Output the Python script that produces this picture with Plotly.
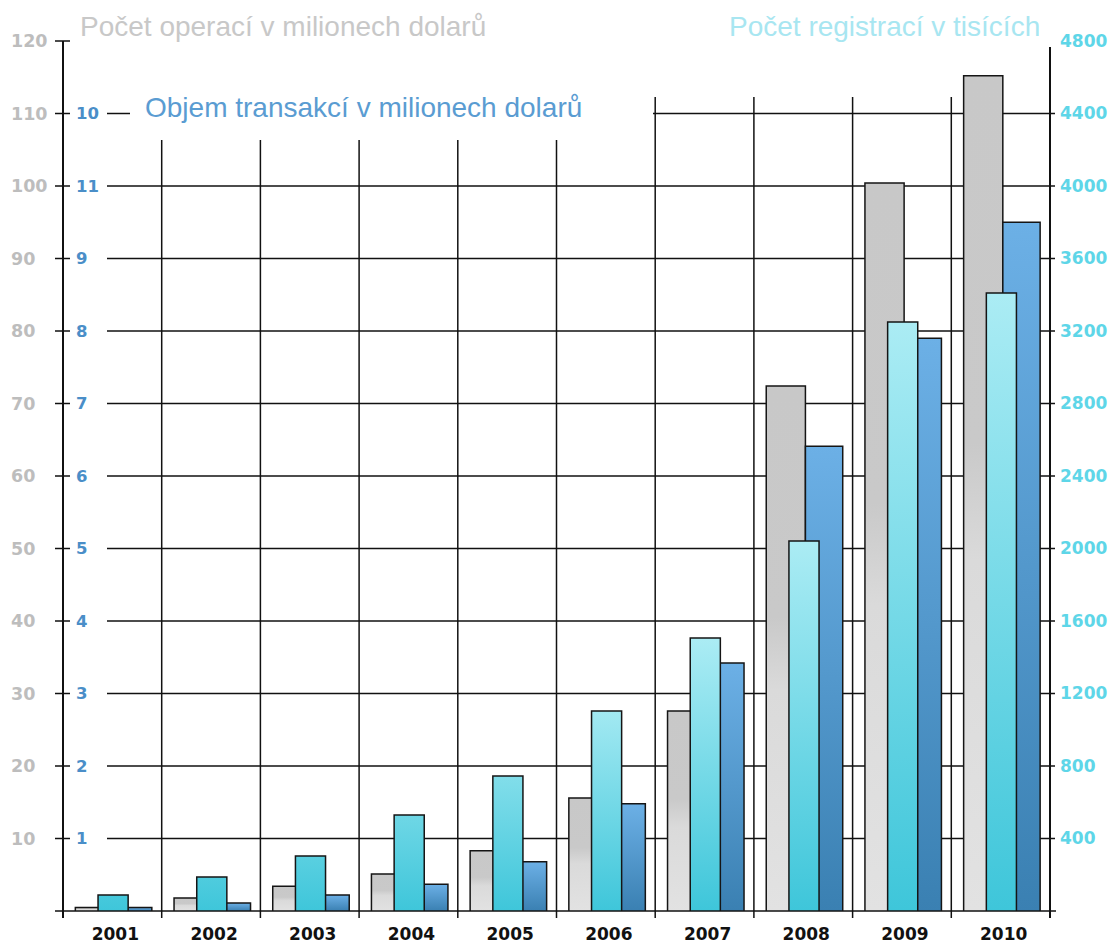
import plotly.graph_objects as go

# ---------------- data ----------------
years = ["2001", "2002", "2003", "2004", "2005", "2006", "2007", "2008", "2009", "2010"]
# Počet operací v milionech dolarů (left axis, grey bars)
operations = [0.5, 1.8, 3.4, 5.1, 8.3, 15.6, 27.6, 72.4, 100.4, 115.2]
# Počet registrací v tisících (right axis, cyan bars)
registrations = [88, 188, 303, 530, 745, 1103, 1506, 2041, 3250, 3410]
# Objem transakcí v milionech dolarů (inner axis, blue bars)
volume = [0.05, 0.11, 0.22, 0.37, 0.68, 1.48, 3.42, 6.41, 7.9, 9.5]

left_tickvals = [10, 20, 30, 40, 50, 60, 70, 80, 90, 100, 110, 120]
inner_tickvals = [1, 2, 3, 4, 5, 6, 7, 8, 9, 10, 11]
inner_ticktext = ["1", "2", "3", "4", "5", "6", "7", "8", "9", "11", "10"]
right_tickvals = [400, 800, 1200, 1600, 2000, 2400, 2800, 3200, 3600, 4000, 4400, 4800]

# ---------------- layout constants ----------------
W, H = 1117, 945
PL, PR, PT, PB = 63, 1050, 41, 911   # plot area in px
CAT = (PR - PL) / 10.0

GRAY_SPAN = (0.125, 0.522)
BLUE_SPAN = (0.522, 0.900)
CYAN_SPAN = (0.355, 0.660)

GRAY_SCALE = [[0, "#e2e2e2"], [0.42, "#dadada"], [0.56, "#c9c9c9"], [1, "#c8c8c8"]]
CYAN_SCALE = [[0, "#3ec6da"], [1, "#abecf4"]]
BLUE_SCALE = [[0, "#3a80b2"], [1, "#6cb0e6"]]
CYAN_MIN_SPAN = 1200   # gradient length for short cyan bars (axis units)
EDGE = "#151515"
LINE = "#111111"


def bar(i, value, span, yaxis, scale, stop=None):
    left = i - 0.5 + span[0]
    right = i - 0.5 + span[1]
    grad = dict(type="vertical", colorscale=scale)
    if stop is not None:
        grad.update(start=0, stop=stop)
    return go.Scatter(
        x=[left, left, right, right, left],
        y=[0, value, value, 0, 0],
        xaxis="x", yaxis=yaxis, mode="lines",
        line=dict(color=EDGE, width=1.5),
        fill="toself",
        fillgradient=grad,
        hoverinfo="skip", showlegend=False,
    )


fig = go.Figure()
for i, v in enumerate(operations):
    fig.add_trace(bar(i, v, GRAY_SPAN, "y", GRAY_SCALE))
for i, v in enumerate(volume):
    fig.add_trace(bar(i, v, BLUE_SPAN, "y2", BLUE_SCALE))
for i, v in enumerate(registrations):
    fig.add_trace(bar(i, v, CYAN_SPAN, "y3", CYAN_SCALE, stop=max(v, CYAN_MIN_SPAN)))


def px(x):
    return x / W


def py(y):
    return (PB - y) / (PB - PT)


def seg(x0, y0, x1, y1, w=1.5):
    return dict(type="line", xref="paper", yref="paper",
                x0=px(x0), y0=py(y0), x1=px(x1), y1=py(y1),
                line=dict(color=LINE, width=w), layer="below")


shapes = []
unit = (PB - PT) / 120.0
for lv in range(0, 130, 10):
    yy = PB - lv * unit
    if lv == 0:
        shapes.append(seg(55, yy, 1056, yy))
        continue
    shapes.append(seg(55, yy, 70, yy))
    if lv <= 100:
        shapes.append(seg(107, yy, 1055, yy))
    elif lv == 110:
        shapes.append(seg(107, yy, 130, yy))
        shapes.append(seg(653, yy, 1055, yy))

# axes lines
shapes.append(seg(PL, PT, PL, 918, 2))
shapes.append(seg(PR, 47, PR, 918, 2))
# category dividers
for k in range(1, 10):
    xx = PL + k * CAT
    top = 140 if k <= 5 else 97
    shapes.append(seg(xx, top, xx, 918, 1.5))

tick_font_base = dict(family="DejaVu Sans", weight="bold")

fig.update_layout(
    width=W, height=H,
    margin=dict(l=0, r=0, t=PT, b=H - PB, pad=0, autoexpand=False),
    plot_bgcolor="white", paper_bgcolor="white",
    showlegend=False,
    shapes=shapes,
    xaxis=dict(domain=[PL / W, PR / W], range=[-0.5, 9.5], automargin=False,
               tickvals=list(range(10)), ticktext=years,
               showgrid=False, zeroline=False, showline=False,
               ticks="outside", ticklen=8, tickcolor="rgba(0,0,0,0)",
               ticklabelshift=3,
               tickfont=dict(size=17, color="#111111", **tick_font_base)),
    yaxis=dict(range=[0, 120], tickvals=left_tickvals, automargin=False,
               side="right", anchor="free", position=10 / W,
               showgrid=False, zeroline=False, showline=False, ticks="",
               tickfont=dict(size=17.5, color="#bdbdbd", **tick_font_base)),
    yaxis2=dict(range=[0, 12], overlaying="y", tickvals=inner_tickvals,
                ticktext=inner_ticktext, automargin=False,
                side="right", anchor="free", position=75 / W,
                showgrid=False, zeroline=False, showline=False, ticks="",
                tickfont=dict(size=16.5, color="#4a8ec8", **tick_font_base)),
    yaxis3=dict(range=[0, 4800], overlaying="y", tickvals=right_tickvals,
                automargin=False,
                side="right", anchor="free", position=1059 / W,
                showgrid=False, zeroline=False, showline=False, ticks="",
                tickfont=dict(size=17, color="#5ed6e8", **tick_font_base)),
    annotations=[
        dict(text="Počet operací v milionech dolarů", xref="paper", yref="paper",
             x=px(78), y=py(26), xanchor="left", yanchor="middle", showarrow=False,
             font=dict(family="Liberation Sans", size=28, color="#c8c8c8")),
        dict(text="Objem transakcí v milionech dolarů", xref="paper", yref="paper",
             x=px(143), y=py(107), xanchor="left", yanchor="middle", showarrow=False,
             font=dict(family="Liberation Sans", size=28, color="#5a9cd2")),
        dict(text="Počet registrací v tisících", xref="paper", yref="paper",
             x=px(1042), y=py(26), xanchor="right", yanchor="middle", showarrow=False,
             font=dict(family="Liberation Sans", size=28, color="#a8e6f1")),
    ],
)

fig.write_html("out.html")
